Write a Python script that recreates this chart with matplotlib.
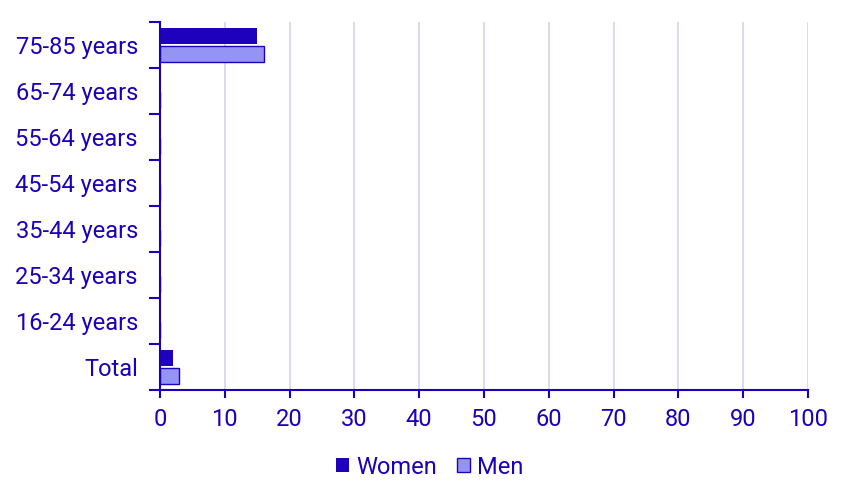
import matplotlib
matplotlib.use("Agg")
import matplotlib.pyplot as plt
import numpy as np

plt.rcParams['font.family'] = ['Roboto', 'DejaVu Sans']

# Data
categories = ['Total', '16-24 years', '25-34 years', '35-44 years',
              '45-54 years', '55-64 years', '65-74 years', '75-85 years']
women = [2, 0, 0, 0, 0, 0, 0, 15]
men = [3, 0, 0, 0, 0, 0, 0, 16]
x_ticks = [0, 10, 20, 30, 40, 50, 60, 70, 80, 90, 100]

text_col = '#1a00b8'
women_col = '#1f00bd'
men_col = '#9494f4'
grid_col = '#d6d2f0'

fig = plt.figure(figsize=(8.51, 5.0), dpi=100)
ax = fig.add_axes([160 / 851, 1 - 390 / 500, (808 - 160) / 851, (390 - 22) / 500])

y = np.arange(len(categories))
h = 0.35
ax.barh(y + 0.19, women, height=h, color=women_col, zorder=3)
ax.barh(y - 0.19, men, height=h, color=men_col, edgecolor=women_col,
        linewidth=1, zorder=3)

ax.set_xlim(0, 100)
ax.set_ylim(-0.5, len(categories) - 0.5)
ax.set_xticks(x_ticks)
ax.set_xticklabels([str(v) for v in x_ticks])

# category labels at centers, tick marks at boundaries
ax.set_yticks(np.arange(len(categories) + 1) - 0.5)
ax.set_yticklabels([])
ax.set_yticks(y, minor=True)
ax.set_yticklabels(categories, minor=True)
ax.tick_params(axis='y', which='minor', length=0, pad=16, labelsize=17,
               labelcolor=text_col)
ax.tick_params(axis='y', which='major', length=8, width=1.5, color=text_col)
ax.tick_params(axis='x', length=6, width=1.5, color=text_col,
               labelsize=17, labelcolor=text_col, pad=7)

ax.grid(axis='x', color=grid_col, linewidth=1.2, zorder=0)
for s in ['top', 'right']:
    ax.spines[s].set_visible(False)
for s in ['left', 'bottom']:
    ax.spines[s].set_color(text_col)
    ax.spines[s].set_linewidth(1.5)
    ax.spines[s].set_zorder(4)

leg = fig.legend(['Women', 'Men'], loc='center', bbox_to_anchor=(430 / 851, 1 - 467 / 500),
                 ncol=2, frameon=False, fontsize=17, handlelength=0.55,
                 handleheight=0.55, handletextpad=0.3, columnspacing=0.85)
for t in leg.get_texts():
    t.set_color(text_col)

fig.savefig('out.png', dpi=100)
